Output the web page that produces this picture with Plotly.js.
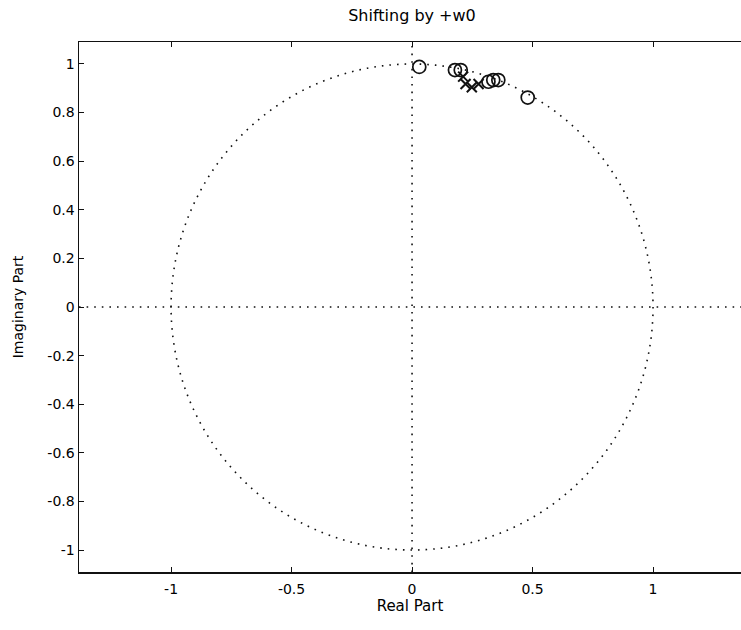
<!DOCTYPE html>
<html>
<head>
<meta charset="utf-8">
<script src="https://cdn.plot.ly/plotly-3.0.1.min.js"></script>
<style>html,body{margin:0;padding:0;background:#fff;}#chart{width:741px;height:630px;}</style>
</head>
<body>
<div id="chart"></div>
<script>
// Zeros (o) and poles (x)
const zerosRe = [0.03, 0.178, 0.202, 0.317, 0.337, 0.358, 0.48];
const zerosIm = [0.988, 0.975, 0.975, 0.927, 0.934, 0.934, 0.862];
const polesRe = [0.212, 0.222, 0.248, 0.276];
const polesIm = [0.948, 0.918, 0.904, 0.918];

const xTickVals = [-1, -0.5, 0, 0.5, 1];
const xTickText = ['-1', '-0.5', '0', '0.5', '1'];
const yTickVals = [1, 0.8, 0.6, 0.4, 0.2, 0, -0.2, -0.4, -0.6, -0.8, -1];
const yTickText = ['1', '0.8', '0.6', '0.4', '0.2', '0', '-0.2', '-0.4', '-0.6', '-0.8', '-1'];

const xRange = [-1.382, 1.365];
const yRange = [-1.0905, 1.0905];

const dotted = {color: '#111', width: 1.6, dash: '1.6px,6px'};
const FONT = 'DejaVu Sans, Liberation Sans, Arial, sans-serif';

const traces = [
  {
    x: zerosRe, y: zerosIm, type: 'scatter', mode: 'markers', name: 'zeros',
    marker: {symbol: 'circle-open', size: 13, color: '#111', line: {width: 1.7, color: '#111'}},
    hoverinfo: 'x+y'
  },
  {
    x: polesRe, y: polesIm, type: 'scatter', mode: 'markers', name: 'poles',
    marker: {symbol: 'x-thin-open', size: 10, color: '#111', line: {width: 2, color: '#111'}},
    hoverinfo: 'x+y'
  }
];

const layout = {
  width: 741, height: 630,
  margin: {l: 79, r: 0, t: 42, b: 58},
  paper_bgcolor: '#fff', plot_bgcolor: '#fff',
  showlegend: false,
  font: {family: FONT, size: 14, color: '#000'},
  title: {text: 'Shifting by +w0', x: 412 / 741, xanchor: 'center', xref: 'container',
          y: 1 - 15 / 630, yanchor: 'middle', yref: 'container',
          font: {family: FONT, size: 16, color: '#000'}},
  xaxis: {
    range: xRange, tickvals: xTickVals, ticktext: xTickText,
    showgrid: false, zeroline: false,
    showline: true, linecolor: '#111', linewidth: 1.5, mirror: 'ticks',
    ticks: 'inside', ticklen: 5, tickcolor: '#111', tickwidth: 1,
    ticklabelstandoff: 4,
    tickfont: {size: 14}, title: {text: 'Real Part', standoff: 4, font: {size: 15}}
  },
  yaxis: {
    range: yRange, tickvals: yTickVals, ticktext: yTickText,
    showgrid: false, zeroline: false,
    showline: true, linecolor: '#111', linewidth: 1.5,
    ticks: 'inside', ticklen: 5, tickcolor: '#111', tickwidth: 1,
    tickfont: {size: 14}, title: {text: 'Imaginary Part', standoff: 20, font: {size: 14}}
  },
  shapes: [
    {type: 'circle', xref: 'x', yref: 'y', x0: -1, x1: 1, y0: -1, y1: 1, line: dotted, layer: 'below'},
    {type: 'line', xref: 'x', yref: 'y', x0: xRange[0], x1: xRange[1], y0: 0, y1: 0, line: dotted, layer: 'below'},
    {type: 'line', xref: 'x', yref: 'y', x0: 0, x1: 0, y0: yRange[0], y1: yRange[1], line: dotted, layer: 'below'}
  ]
};

Plotly.newPlot('chart', traces, layout, {displayModeBar: false, staticPlot: true});
</script>
</body>
</html>
